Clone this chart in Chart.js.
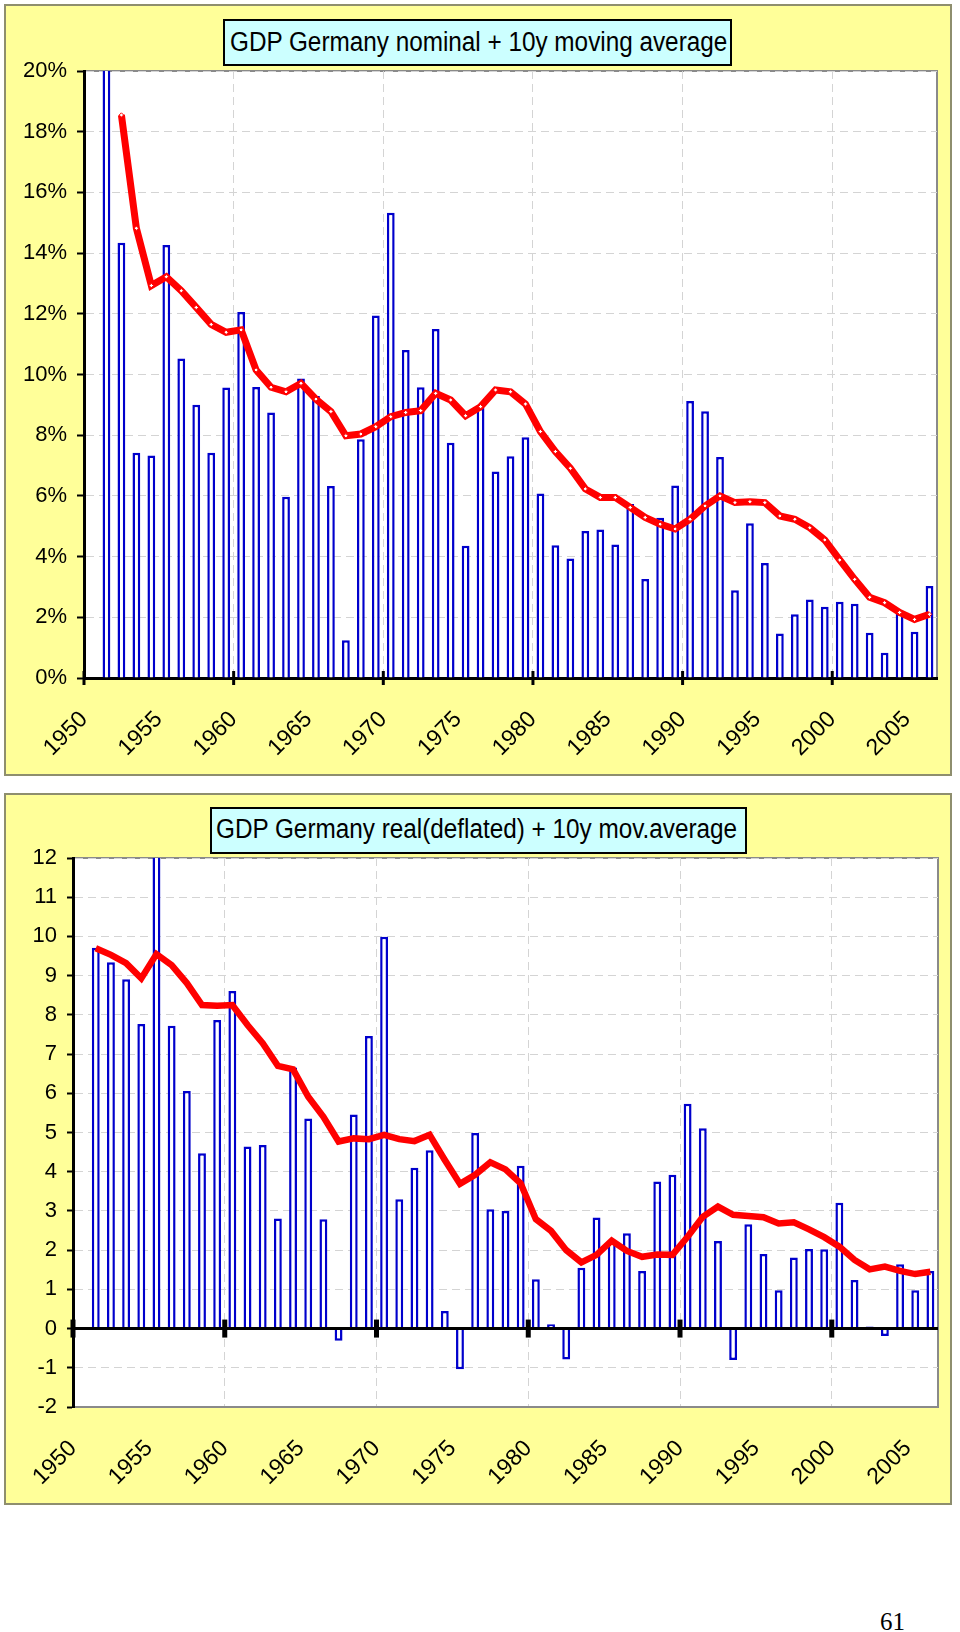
<!DOCTYPE html>
<html>
<head>
<meta charset="utf-8">
<script src="https://cdn.jsdelivr.net/npm/chart.js@4.4.1/dist/chart.umd.min.js"></script>
<style>
  html, body { margin: 0; padding: 0; background: #ffffff; }
  body { width: 960px; height: 1632px; position: relative; overflow: hidden; font-family: "Liberation Sans", Arial, sans-serif; }
  .panel { position: absolute; left: 4px; width: 948px; box-sizing: border-box; border: 2px solid #8e8e6e; background: #ffff99; }
  .panel canvas { position: absolute; left: 0; top: 0; }
  .title { position: absolute; box-sizing: border-box; height: 47px; border: 2px solid #000; background: #ccffff; white-space: nowrap; }
  .title span { position: absolute; display: inline-block; font-size: 27px; line-height: 1; color: #000; transform: scaleX(0.9); transform-origin: 0 0; }
  .page { position: absolute; left: 880px; top: 1609px; font-family: "Liberation Serif", "DejaVu Serif", serif; font-size: 25px; line-height: 1; color: #000; }
</style>
</head>
<body>
<div class="panel" style="top:4px;height:772px;"><canvas id="nominalChart" width="944" height="768"></canvas></div>
<div class="panel" style="top:793px;height:712px;"><canvas id="realChart" width="944" height="708"></canvas></div>
<div class="title" style="left:223px;top:19px;width:509px;"><span style="left:5px;top:8px;">GDP Germany nominal + 10y moving average</span></div>
<div class="title" style="left:210px;top:807px;width:537px;"><span style="left:4px;top:7px;">GDP Germany real(deflated) + 10y mov.average</span></div>
<div class="page">61</div>

<script>
const years = [
  1950, 1951, 1952, 1953, 1954, 1955, 1956, 1957, 1958, 1959,
  1960, 1961, 1962, 1963, 1964, 1965, 1966, 1967, 1968, 1969,
  1970, 1971, 1972, 1973, 1974, 1975, 1976, 1977, 1978, 1979,
  1980, 1981, 1982, 1983, 1984, 1985, 1986, 1987, 1988, 1989,
  1990, 1991, 1992, 1993, 1994, 1995, 1996, 1997, 1998, 1999,
  2000, 2001, 2002, 2003, 2004, 2005, 2006
];

// nominal GDP growth, % per year
const nominalGrowth = [
  null, 21.5, 14.34, 7.42, 7.33, 14.27, 10.53, 9.0, 7.42, 9.57,
  12.06, 9.59, 8.75, 5.97, 9.87, 9.29, 6.33, 1.24, 7.87, 11.94,
  15.33, 10.81, 9.58, 11.5, 7.75, 4.36, 8.9, 6.8, 7.31, 7.93,
  6.08, 4.37, 3.94, 4.84, 4.89, 4.4, 5.73, 3.26, 5.28, 6.34,
  9.13, 8.79, 7.28, 2.89, 5.1, 3.79, 1.47, 2.1, 2.59, 2.35,
  2.51, 2.45, 1.49, 0.83, 2.13, 1.52, 3.03
];

const nominalAverage = [
  null, null, 18.55, 14.82, 12.93, 13.22, 12.76, 12.21, 11.65, 11.39,
  11.47, 10.15, 9.58, 9.43, 9.71, 9.19, 8.78, 7.98, 8.04, 8.28,
  8.61, 8.75, 8.81, 9.38, 9.16, 8.64, 8.94, 9.49, 9.43, 9.03,
  8.12, 7.46, 6.91, 6.23, 5.95, 5.95, 5.62, 5.29, 5.07, 4.91,
  5.23, 5.67, 6.0, 5.78, 5.81, 5.78, 5.34, 5.23, 4.95, 4.55,
  3.89, 3.25, 2.66, 2.48, 2.16, 1.93, 2.1
];

// real (deflated) GDP growth
const realGrowth = [
  null, 9.71, 9.34, 8.91, 7.77, 12.1, 7.72, 6.06, 4.47, 7.87,
  8.61, 4.64, 4.68, 2.81, 6.66, 5.36, 2.79, -0.31, 5.46, 7.46,
  9.99, 3.3, 4.1, 4.55, 0.45, -1.04, 4.99, 3.04, 3.0, 4.15,
  1.26, 0.11, -0.79, 1.55, 2.83, 2.2, 2.43, 1.47, 3.75, 3.92,
  5.73, 5.11, 2.23, -0.8, 2.66, 1.9, 0.98, 1.81, 2.03, 2.02,
  3.21, 1.24, 0.05, -0.19, 1.64, 0.98, 1.47
];

const realAverage = [
  null, 9.7, 9.53, 9.32, 8.93, 9.55, 9.27, 8.81, 8.25, 8.23,
  8.25, 7.74, 7.28, 6.7, 6.61, 5.91, 5.4, 4.77, 4.85, 4.83,
  4.94, 4.83, 4.78, 4.94, 4.3, 3.69, 3.92, 4.24, 4.06, 3.7,
  2.79, 2.49, 2.0, 1.69, 1.88, 2.24, 1.98, 1.83, 1.89, 1.88,
  2.34, 2.85, 3.11, 2.9, 2.87, 2.84, 2.68, 2.71, 2.53, 2.33,
  2.09, 1.75, 1.51, 1.58, 1.47, 1.39, 1.45
];

const labelFont = { family: "Liberation Sans", size: 22 };
const gridGrey = "#d4d4d4";

// white plot area with a grey frame
const plotFrame = {
  id: "plotFrame",
  beforeDraw(chart) {
    const { ctx, chartArea: a } = chart;
    ctx.save();
    ctx.fillStyle = "#ffffff";
    ctx.fillRect(a.left, a.top, a.right - a.left, a.bottom - a.top);
    ctx.strokeStyle = "#8a8a8a";
    ctx.lineWidth = 2;
    ctx.strokeRect(a.left, a.top, a.right - a.left, a.bottom - a.top);
    ctx.restore();
  }
};

// solid zero line + decade tick marks crossing it
const zeroAxis = {
  id: "zeroAxis",
  afterDatasetsDraw(chart, args, opts) {
    const { ctx, chartArea: a, scales: { x, y } } = chart;
    const y0 = y.getPixelForValue(0);
    const half = (x.getPixelForValue(1) - x.getPixelForValue(0)) / 2;
    ctx.save();
    ctx.strokeStyle = "#000";
    if (opts.line) {
      ctx.lineWidth = 3;
      ctx.beginPath();
      ctx.moveTo(a.left, y0);
      ctx.lineTo(a.right, y0);
      ctx.stroke();
    }
    ctx.lineWidth = opts.tickWidth || 3;
    years.forEach((yr, i) => {
      if (yr % 10 !== 0) return;
      const px = x.getPixelForValue(i) - half;
      ctx.beginPath();
      ctx.moveTo(px, y0 - opts.size);
      ctx.lineTo(px, y0 + opts.size);
      ctx.stroke();
    });
    ctx.restore();
  }
};

function xAxis(borderColor, borderWidth) {
  return {
    grid: {
      offset: true,
      drawTicks: false,
      lineWidth: 1,
      color: ctx => (ctx.index !== undefined && ctx.index % 10 === 0) ? gridGrey : "transparent"
    },
    border: { color: borderColor, width: borderWidth, dash: [8, 5] },
    ticks: {
      autoSkip: false,
      maxRotation: 45,
      minRotation: 45,
      labelOffset: -7.5,
      padding: 28,
      color: "#000",
      font: { family: "Liberation Sans", size: 23 },
      callback: (value, index) => years[index] % 5 === 0 ? String(years[index]) : ""
    },
    afterFit: scale => {
      scale.height = 96;
      scale.paddingLeft = 0;
      scale.paddingRight = 0;
    }
  };
}

function lineDataset(values, width, radius) {
  return {
    type: "line",
    data: values,
    order: 0,
    borderColor: "#ff0000",
    borderWidth: width,
    tension: 0,
    pointStyle: "rectRot",
    pointRadius: radius,
    pointBackgroundColor: "#ffffff",
    pointBorderColor: "#ff0000",
    pointBorderWidth: 1
  };
}

function barDataset(values) {
  return {
    type: "bar",
    data: values,
    order: 1,
    backgroundColor: "#ffffff",
    borderColor: "#0000cc",
    borderWidth: 2.5,
    barPercentage: 0.52,
    categoryPercentage: 1.0
  };
}

const commonPlugins = {
  legend: { display: false },
  tooltip: { enabled: false }
};

new Chart(document.getElementById("nominalChart"), {
  type: "bar",
  data: {
    labels: years,
    datasets: [lineDataset(nominalAverage, 7, 2.2), barDataset(nominalGrowth)]
  },
  options: {
    responsive: false,
    animation: false,
    layout: { padding: { left: 0, top: 65, right: 13, bottom: 0 } },
    plugins: { ...commonPlugins, zeroAxis: { line: false, size: 7, tickWidth: 3 } },
    scales: {
      x: xAxis("#000", 3),
      y: {
        min: 0,
        max: 20,
        ticks: {
          stepSize: 2,
          padding: 10,
          color: "#000",
          font: labelFont,
          callback: v => v + "%"
        },
        grid: {
          color: ctx => ctx.tick.value === 0 ? "transparent" : gridGrey,
          lineWidth: 1,
          tickColor: "#000",
          tickWidth: 2,
          tickLength: 7,
          tickBorderDash: []
        },
        border: { color: "#000", width: 3, dash: [8, 5] },
        afterFit: scale => { scale.width = 78; }
      }
    }
  },
  plugins: [plotFrame, zeroAxis]
});

new Chart(document.getElementById("realChart"), {
  type: "bar",
  data: {
    labels: years,
    datasets: [lineDataset(realAverage, 6.5, 0), barDataset(realGrowth)]
  },
  options: {
    responsive: false,
    animation: false,
    layout: { padding: { left: 0, top: 63, right: 12, bottom: 0 } },
    plugins: { ...commonPlugins, zeroAxis: { line: true, size: 9, tickWidth: 5 } },
    scales: {
      x: xAxis("#8a8a8a", 2),
      y: {
        min: -2,
        max: 12,
        ticks: {
          stepSize: 0.5,
          padding: 10,
          color: "#000",
          font: labelFont,
          callback: v => Number.isInteger(v) ? String(v) : ""
        },
        grid: {
          color: ctx => ctx.tick.value === 0 ? "transparent" : gridGrey,
          lineWidth: 1,
          tickColor: "#000",
          tickWidth: 2,
          tickLength: 6,
          tickBorderDash: []
        },
        border: { color: "#000", width: 3, dash: [8, 5] },
        afterFit: scale => { scale.width = 67; }
      }
    }
  },
  plugins: [plotFrame, zeroAxis]
});
</script>
</body>
</html>
